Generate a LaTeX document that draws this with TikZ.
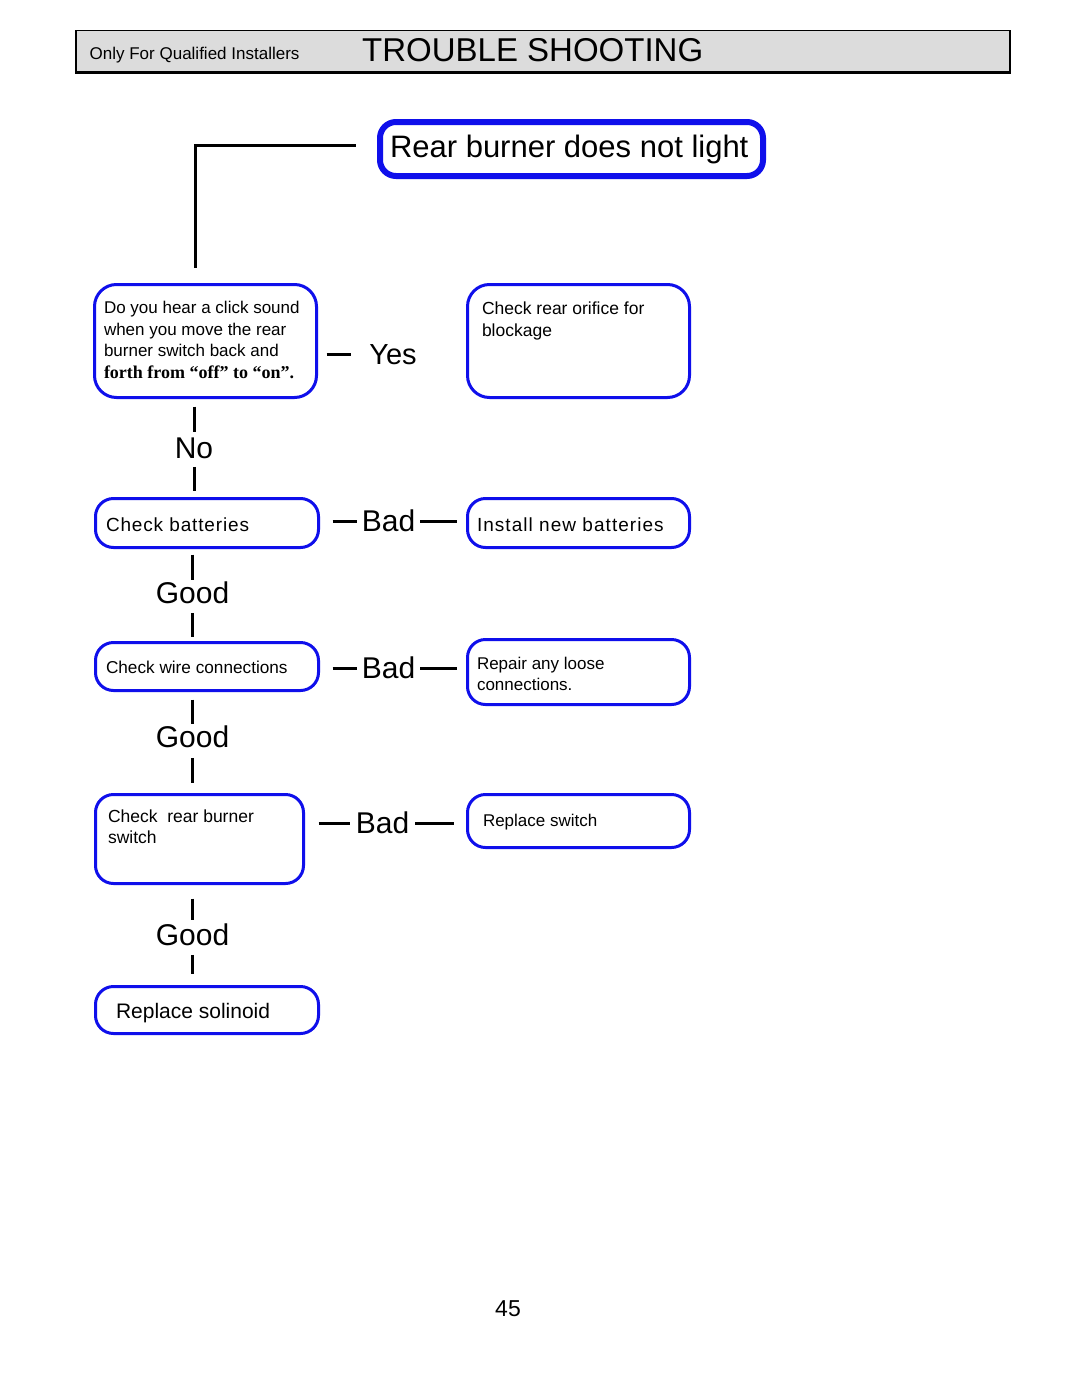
\documentclass[tikz,border=0pt]{standalone}
\usepackage{fontspec}
\setmainfont{Liberation Sans}
\newfontfamily\tnr{Liberation Serif}
\usetikzlibrary{calc}
\definecolor{bblue}{RGB}{15,15,235}
\definecolor{hgray}{RGB}{220,220,220}
\newcommand{\bxt}[7]{\parbox[c][#2pt][t]{#1pt}{\fontsize{#5}{#6}\selectfont\raggedright\leftskip=#3pt\relax\vspace*{#4pt}#7}}
\tikzset{
  box/.style={draw=bblue, line width=3pt, rounded corners=18pt, inner sep=0pt, fill=white},
  conn/.style={draw=black, line width=3pt},
  lbl/.style={inner sep=0pt, font=\fontsize{30}{36}\selectfont, text height=21.5pt, text depth=0pt},
}
\begin{document}
\begin{tikzpicture}[x=1pt,y=-1pt]
\useasboundingbox[fill=white] (0,0) rectangle (1080,1397);
% header
\node[draw=black, line width=1.5pt, fill=hgray, minimum width=933.5pt, minimum height=41.5pt, inner sep=0pt] (hdr) at (542.5,51.5) {};
\draw[line width=2.5pt] (hdr.south west) -- (hdr.south east) -- (hdr.north east);
\node[anchor=base west, inner sep=0pt, font=\fontsize{17}{20}\selectfont] (hq) at (89.5,59.5) {Only For Qualified Installers};
\node[anchor=base west, inner sep=0pt, font=\fontsize{33}{40}\selectfont] (ht) at (362,62) {TROUBLE SHOOTING};
% boxes
\node[box, line width=6pt, rounded corners=16pt] (top) at (571.5,149) {\bxt{383}{54}{10}{13.4}{31}{36}{Rear burner does not light}};
\node[box, rounded corners=22pt] (q1) at (205.5,341) {\bxt{222}{113}{9.5}{17}{17}{21.5}{Do you hear a click sound\\ when you move the rear\\ burner switch back and\\ {\tnr\bfseries\fontsize{18}{21.5}\selectfont forth from “off” to “on”.}}};
\node[box, rounded corners=22pt] (rof) at (578.5,341) {\bxt{222}{113}{14.5}{17.7}{17.5}{21.5}{Check rear orifice for\\ blockage}};
\node[box] (cb) at (207,523) {\bxt{223}{49}{10.5}{19.6}{19}{23}{\addfontfeature{LetterSpace=4.5}Check batteries}};
\node[box] (nb) at (578.5,523) {\bxt{222}{49}{9.5}{19.6}{19}{23}{\addfontfeature{LetterSpace=5.5}Install new batteries}};
\node[box] (cw) at (207,666.5) {\bxt{223}{48}{10.5}{19}{17.2}{21}{Check wire connections}};
\node[box] (rp) at (578.5,672) {\bxt{222}{65}{9.5}{18}{17}{21}{Repair any loose\\ connections.}};
\node[box] (sw) at (199.5,839) {\bxt{208}{89}{12.5}{15}{17.5}{21}{Check\ \ rear burner\\ switch}};
\node[box] (rs) at (578.5,821) {\bxt{222}{53}{15.5}{20}{17}{21}{Replace switch}};
\node[box] (sol) at (207,1010) {\bxt{223}{47}{20.5}{17}{21}{25}{Replace solinoid}};
% labels
\node[lbl, font=\fontsize{29}{34}\selectfont] (yes) at (393,354) {Yes};
\node[lbl] (no) at (194,448) {No};
\node[lbl] (g1) at (192.5,593) {Good};
\node[lbl] (g2) at (192.5,737) {Good};
\node[lbl] (g3) at (192.5,935) {Good};
\node[lbl] (b1) at (388.5,521) {Bad};
\node[lbl] (b2) at (388.5,668) {Bad};
\node[lbl] (b3) at (382.5,823) {Bad};
% connectors
\coordinate (tc) at (195,268);
\draw[conn] ($(top.west)+(-21.5,-4)$) -| (tc);
\draw[conn] ($(q1.east |- yes)+(8.5,0)$) -- ($(yes.west)+(-18,0)$);
\draw[conn] ($(q1.south -| no)+(0,7.5)$) -- ($(no.north)+(0,-5)$);
\draw[conn] ($(no.south)+(0,8)$) -- ($(cb.north -| no)+(0,-6.5)$);
\draw[conn] ($(cb.south -| g1)+(0,5.5)$) -- ($(g1.north)+(0,-2.5)$);
\draw[conn] ($(g1.south)+(0,9)$) -- ($(cw.north -| g1)+(0,-4.5)$);
\draw[conn] ($(cw.south -| g2)+(0,7.5)$) -- ($(g2.north)+(0,-2.5)$);
\draw[conn] ($(g2.south)+(0,10)$) -- ($(sw.north -| g2)+(0,-10.5)$);
\draw[conn] ($(sw.south -| g3)+(0,13.5)$) -- ($(g3.north)+(0,-4.5)$);
\draw[conn] ($(g3.south)+(0,9)$) -- ($(sol.north -| g3)+(0,-11.5)$);
\draw[conn] ($(cb.east |- b1)+(12.5,0)$) -- ($(b1.west)+(-5,0)$);
\draw[conn] ($(b1.east)+(5,0)$) -- ($(nb.west |- b1)+(-9.5,0)$);
\draw[conn] ($(cw.east |- b2)+(12.5,0)$) -- ($(b2.west)+(-5,0)$);
\draw[conn] ($(b2.east)+(5,0)$) -- ($(rp.west |- b2)+(-9.5,0)$);
\draw[conn] ($(sw.east |- b3)+(13.5,0)$) -- ($(b3.west)+(-6,0)$);
\draw[conn] ($(b3.east)+(6,0)$) -- ($(rs.west |- b3)+(-12.5,0)$);
% page number
\node[anchor=base, inner sep=0pt, font=\fontsize{23}{28}\selectfont] (pg) at (508,1316) {45};
\end{tikzpicture}
\end{document}
